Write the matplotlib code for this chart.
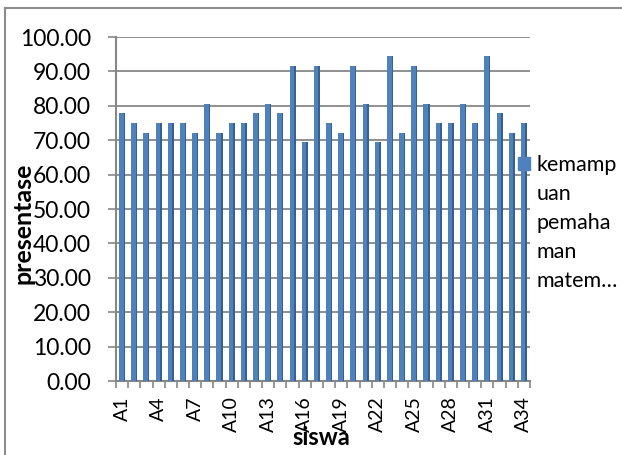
import matplotlib.pyplot as plt
from matplotlib.patches import Rectangle
from matplotlib.lines import Line2D
import numpy as np

# --- DATA ---
students = [f"A{i}" for i in range(1, 35)]
scores = [77.78, 75.00, 72.22, 75.00, 75.00, 75.00, 72.22, 80.56, 72.22, 75.00,
          75.00, 77.78, 80.56, 77.78, 91.67, 69.44, 91.67, 75.00, 72.22, 91.67,
          80.56, 69.44, 94.44, 72.22, 91.67, 80.56, 75.00, 75.00, 80.56, 75.00,
          94.44, 77.78, 72.22, 75.00]
y_ticks = [0, 10, 20, 30, 40, 50, 60, 70, 80, 90, 100]
series_lines = ["kemamp", "uan", "pemaha", "man", "matem…"]

FONT = ["Lato", "DejaVu Sans"]
BLUE = "#4F81BD"
BLUE_SIDE = "#36608F"
GRID = "#878787"

plt.rcParams["font.family"] = FONT

fig = plt.figure(figsize=(6.22, 4.55), dpi=100)
ax = fig.add_axes([116 / 622, 1 - 381 / 455, (530 - 116) / 622, (381 - 37) / 455])

x = np.arange(len(students))
face_w = 0.38
side_w = 0.12
# front face of each column plus a darker side strip for the 3D look
ax.bar(x - side_w / 2, scores, width=face_w, color=BLUE, zorder=3, linewidth=0)
ax.bar(x + face_w / 2, scores, width=side_w, color=BLUE_SIDE, zorder=3, linewidth=0)

ax.set_xlim(-0.5, len(students) - 0.5)
ax.set_ylim(0, 100)
ax.set_yticks(y_ticks)
ax.set_yticklabels([f"{v:.2f}" for v in y_ticks], fontsize=16.5)
ax.yaxis.grid(True, color=GRID, linewidth=1.3, zorder=0)
ax.set_axisbelow(True)

ax.set_xticks(x[::3])
ax.set_xticklabels(students[::3], rotation=90, fontsize=14)
ax.set_xticks(np.arange(-0.5, len(students)), minor=True)
ax.tick_params(axis="x", which="major", length=0, pad=11)
ax.tick_params(axis="x", which="minor", length=5, color=GRID, width=1.2)
ax.tick_params(axis="y", length=6, color=GRID, width=1.2, pad=12)

for side in ["top", "right"]:
    ax.spines[side].set_visible(False)
for side in ["left", "bottom"]:
    ax.spines[side].set_color(GRID)
    ax.spines[side].set_linewidth(1.5)

ax.set_xlabel("siswa", fontsize=17, fontweight="bold")
ax.xaxis.set_label_coords(0.495, -0.13)
ax.set_ylabel("presentase", fontsize=18, fontweight="bold")
ax.yaxis.set_label_coords(-0.196, 0.458)

# legend: square key beside the wrapped series name
fig.patches.append(Rectangle((518 / 622, 1 - 170 / 455), 12 / 622, 13 / 455,
                             transform=fig.transFigure, color=BLUE))
fig.text(537 / 622, 1 - 155 / 455, "\n".join(series_lines), fontsize=15.5,
         va="top", ha="left", linespacing=1.57, transform=fig.transFigure)

# chart frame
fig.add_artist(Line2D([5 / 622, 5 / 622], [0, 1 - 8 / 455], color="#8c8c8c",
                      linewidth=1.5, transform=fig.transFigure))
fig.add_artist(Line2D([5 / 622, 1], [1 - 8 / 455, 1 - 8 / 455], color="#8c8c8c",
                      linewidth=1.5, transform=fig.transFigure))

fig.savefig("out.png", dpi=100)
